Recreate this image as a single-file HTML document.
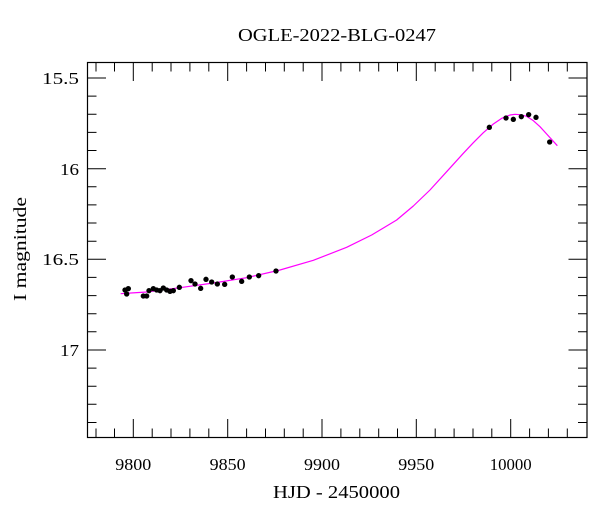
<!DOCTYPE html>
<html><head><style>body{margin:0;background:#fff}svg{display:block}text{font-family:"Liberation Serif",serif;fill:#000}</style></head><body>
<svg width="600" height="512" viewBox="0 0 600 512">
<text x="238" y="41" font-size="18" textLength="198" lengthAdjust="spacingAndGlyphs">OGLE-2022-BLG-0247</text>
<rect x="87.5" y="62.5" width="499.5" height="375" fill="none" stroke="#000" stroke-width="1.2"/>
<g stroke="#000" stroke-width="1">
<path d="M87.5,78H106M587,78H568.5M87.5,168.7H106M587,168.7H568.5M87.5,259.3H106M587,259.3H568.5M87.5,350H106M587,350H568.5"/>
<path d="M87.5,96.1H96.5M587,96.1H578M87.5,114.3H96.5M587,114.3H578M87.5,132.4H96.5M587,132.4H578M87.5,150.5H96.5M587,150.5H578M87.5,186.8H96.5M587,186.8H578M87.5,204.9H96.5M587,204.9H578M87.5,223H96.5M587,223H578M87.5,241.2H96.5M587,241.2H578M87.5,277.4H96.5M587,277.4H578M87.5,295.6H96.5M587,295.6H578M87.5,313.7H96.5M587,313.7H578M87.5,331.8H96.5M587,331.8H578M87.5,368.1H96.5M587,368.1H578M87.5,386.2H96.5M587,386.2H578M87.5,404.3H96.5M587,404.3H578M87.5,422.5H96.5M587,422.5H578"/>
<path d="M133.3,437.5V419M133.3,62.5V81M227.7,437.5V419M227.7,62.5V81M322,437.5V419M322,62.5V81M416.3,437.5V419M416.3,62.5V81M510.7,437.5V419M510.7,62.5V81"/>
<path d="M96,437.5V428.5M96,62.5V71.5M114.5,437.5V428.5M114.5,62.5V71.5M152.2,437.5V428.5M152.2,62.5V71.5M171,437.5V428.5M171,62.5V71.5M189.9,437.5V428.5M189.9,62.5V71.5M208.8,437.5V428.5M208.8,62.5V71.5M246.6,437.5V428.5M246.6,62.5V71.5M265.5,437.5V428.5M265.5,62.5V71.5M284.3,437.5V428.5M284.3,62.5V71.5M303.2,437.5V428.5M303.2,62.5V71.5M340.9,437.5V428.5M340.9,62.5V71.5M359.8,437.5V428.5M359.8,62.5V71.5M378.7,437.5V428.5M378.7,62.5V71.5M397.5,437.5V428.5M397.5,62.5V71.5M435.2,437.5V428.5M435.2,62.5V71.5M454.1,437.5V428.5M454.1,62.5V71.5M473,437.5V428.5M473,62.5V71.5M491.8,437.5V428.5M491.8,62.5V71.5M529.6,437.5V428.5M529.6,62.5V71.5M548.4,437.5V428.5M548.4,62.5V71.5M567.3,437.5V428.5M567.3,62.5V71.5"/>
</g>
<g font-size="17">
<text x="42" y="84" textLength="37" lengthAdjust="spacingAndGlyphs">15.5</text>
<text x="60" y="175" textLength="19" lengthAdjust="spacingAndGlyphs">16</text>
<text x="42" y="265" textLength="37" lengthAdjust="spacingAndGlyphs">16.5</text>
<text x="60" y="356" textLength="19" lengthAdjust="spacingAndGlyphs">17</text>
<text x="115.3" y="470" textLength="36" lengthAdjust="spacingAndGlyphs">9800</text>
<text x="209.7" y="470" textLength="36" lengthAdjust="spacingAndGlyphs">9850</text>
<text x="304" y="470" textLength="36" lengthAdjust="spacingAndGlyphs">9900</text>
<text x="398.3" y="470" textLength="36" lengthAdjust="spacingAndGlyphs">9950</text>
<text x="489.7" y="470" textLength="42" lengthAdjust="spacingAndGlyphs">10000</text>
</g>
<text x="273" y="498" font-size="18" textLength="127" lengthAdjust="spacingAndGlyphs">HJD - 2450000</text>
<text transform="translate(26,301) rotate(-90)" font-size="18" textLength="104" lengthAdjust="spacingAndGlyphs">I magnitude</text>
<g transform="translate(80,50) scale(0.33333)">
<polyline fill="none" stroke="#ff00ff" stroke-width="1.2" vector-effect="non-scaling-stroke" stroke-linejoin="round" points="122,731 200,726 300,713 400,699 500,683 600,660 700,631 800,592 875,555 950,510 1000,468 1050,420 1100,365 1150,310 1180,278 1210,248 1240,222 1265,205 1290,195 1305,193 1320,194 1340,199 1360,212 1380,230 1400,252 1420,274 1432,287"/>
<g fill="#000">
<circle cx="135" cy="720" r="8"/><circle cx="145" cy="716" r="8"/><circle cx="140" cy="732" r="8"/><circle cx="190" cy="738" r="8"/><circle cx="200" cy="738" r="8"/><circle cx="207" cy="722" r="8"/><circle cx="220" cy="716" r="8"/><circle cx="230" cy="720" r="8"/><circle cx="240" cy="722" r="8"/><circle cx="250" cy="714" r="8"/><circle cx="260" cy="720" r="8"/><circle cx="270" cy="724" r="8"/><circle cx="280" cy="722" r="8"/><circle cx="298" cy="712" r="8"/><circle cx="333" cy="692" r="8"/><circle cx="345" cy="702" r="8"/><circle cx="362" cy="715" r="8"/><circle cx="378" cy="688" r="8"/><circle cx="395" cy="696" r="8"/><circle cx="412" cy="702" r="8"/><circle cx="434" cy="703" r="8"/><circle cx="457" cy="681" r="8"/><circle cx="485" cy="694" r="8"/><circle cx="508" cy="681" r="8"/><circle cx="536" cy="677" r="8"/><circle cx="588" cy="663" r="8"/><circle cx="1228" cy="232" r="8"/><circle cx="1278" cy="204" r="8"/><circle cx="1300" cy="208" r="8"/><circle cx="1324" cy="200" r="8"/><circle cx="1346" cy="194" r="8"/><circle cx="1368" cy="202" r="8"/><circle cx="1409" cy="276" r="8"/>
</g>
</g>
</svg>
</body></html>
